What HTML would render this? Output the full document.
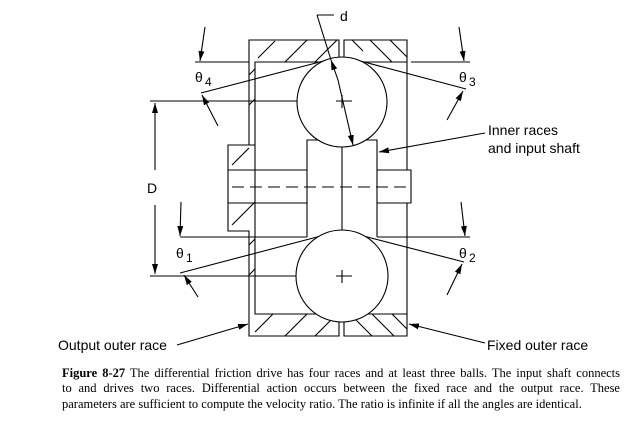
<!DOCTYPE html>
<html><head><style>
body{margin:0;background:#fff;width:634px;height:432px;overflow:hidden}
svg{position:absolute;left:0;top:0}
.cap{position:absolute;left:62px;top:366px;width:558px;font-family:"Liberation Serif",serif;font-size:12.5px;line-height:15.3px;color:#000;white-space:nowrap}
.j{display:block;text-align:justify;text-align-last:justify}
</style></head><body>
<svg width="634" height="432" viewBox="0 0 634 432" font-family="Liberation Sans, sans-serif">
<defs><marker id="a" viewBox="0 0 10 6" refX="10" refY="3" markerWidth="10" markerHeight="6" orient="auto" markerUnits="userSpaceOnUse"><path d="M0,0L10,3L0,6z"/></marker></defs>
<g fill="none" stroke="#000" stroke-width="1.1">
<path d="M249,145 V40 H339 V57"/>
<path d="M255,145 V62 H330 L342,57 L354,62 H407"/>
<path d="M344,57 V40 H407 V170"/>
<path d="M258,58 L275,41 M285,62 L307,40 M315,62 L337,40"/>
<path d="M370,40 L392,62 M390,40 L407,57 M352,40 L363,51"/>
<path d="M195,62 H249 M411,62 H470"/>
<path d="M150,101 H330"/>
<path d="M307,237 V140 H330 L342,147 L354,140 H377 V237"/>
<path d="M342,147 V230"/>
<path d="M255,145 H228 V231 H249 V314"/>
<path d="M228,170 H307 M228,203 H307"/>
<path d="M255,145 V314 H330 L342,322 L354,314 H407"/>
<path d="M232,165 L249,148 M232,225 L255,202"/>
<path d="M249,245 L255,239 M249,275 L255,269 M249,105 L255,99 M249,75 L255,69"/>
<path d="M377,170 H411 V203 H377"/>
<path d="M407,203 V336 H344 V322"/>
<path d="M339,322 V336 H249 V314"/>
<path stroke-dasharray="12,6" d="M232,187 H410"/>
<path d="M255,332 L273,314 M285,336 L307,314 M315,336 L337,314"/>
<path d="M352,316 L372,336 M372,314 L394,336 M392,314 L407,329"/>
<path d="M150,276 H330"/>
<path d="M180,237 H307 M377,237 H470"/>
<path d="M201,93 L335,58"/>
<path d="M349,58 L466,89"/>
<path d="M180,273 L336,232"/>
<path d="M348,232 L464,262"/>
<circle cx="342" cy="102" r="45" fill="#fff"/>
<circle cx="342" cy="276" r="46" fill="#fff"/>
<path d="M336,101 H352 M342,95 V108"/>
<path d="M336,276 H352 M342,270 V283"/>
<path d="M155,170 V103" marker-end="url(#a)"/>
<path d="M155,205 V274" marker-end="url(#a)"/>
<path d="M205,27 L200,61" marker-end="url(#a)"/>
<path d="M459,27 L464,61" marker-end="url(#a)"/>
<path d="M218,126 L202,95" marker-end="url(#a)"/>
<path d="M447,120 L463,91" marker-end="url(#a)"/>
<path d="M181,202 L180,236" marker-end="url(#a)"/>
<path d="M461,202 L465,236" marker-end="url(#a)"/>
<path d="M198,297 L184,275" marker-end="url(#a)"/>
<path d="M447,295 L462,264" marker-end="url(#a)"/>
<path d="M317,15 H334"/>
<path d="M317,15 L331,60"/>
<path d="M338,80 L331,60" marker-end="url(#a)"/>
<path d="M338,80 L353,145" marker-end="url(#a)"/>
<path d="M485,133 L379,152" marker-end="url(#a)"/>
<path d="M177,345 L248,324" marker-end="url(#a)"/>
<path d="M485,343 L409,324" marker-end="url(#a)"/>
</g>
<g font-size="14" fill="#000">
<text x="340" y="21">d</text>
<text x="147" y="193">D</text>
<text x="195" y="82">θ</text><text x="205" y="86" font-size="12">4</text>
<text x="459" y="82">θ</text><text x="469" y="86" font-size="12">3</text>
<text x="176" y="258">θ</text><text x="186" y="262" font-size="12">1</text>
<text x="459" y="258">θ</text><text x="469" y="262" font-size="12">2</text>
<text x="488" y="135">Inner races</text>
<text x="488" y="153">and input shaft</text>
<text x="58" y="350">Output outer race</text>
<text x="487" y="350">Fixed outer race</text>
</g>
</svg>
<div class="cap"><span class="j"><b>Figure 8-27</b> The differential friction drive has four races and at least three balls. The input shaft connects</span><span class="j">to and drives two races. Differential action occurs between the fixed race and the output race. These</span><span style="display:block">parameters are sufficient to compute the velocity ratio. The ratio is infinite if all the angles are identical.</span></div>
</body></html>
